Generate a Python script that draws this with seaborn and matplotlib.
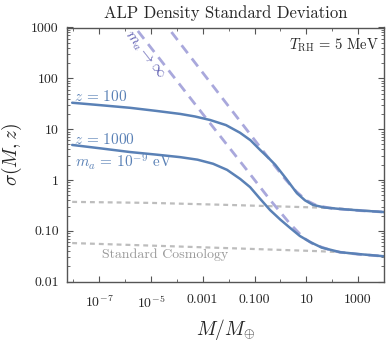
import matplotlib
matplotlib.use("Agg")
import matplotlib.pyplot as plt
import matplotlib.ticker as mticker
import numpy as np
import pandas as pd
import seaborn as sns

# values, as log10(M/M_earth) and log10(sigma)
logm_z100 = [-8.04, -6.9, -5.8, -4.8, -3.87, -3.3, -2.71, -2.1, -1.56, -1.15, -0.78, -0.45, -0.20, 0.2, 0.64, 0.95, 1.26, 1.7, 2.31, 3.1, 4.0]
logs_z100 = [1.52, 1.47, 1.42, 1.36, 1.30, 1.25, 1.18, 1.08, 0.93, 0.78, 0.59, 0.43, 0.30, 0.04, -0.26, -0.40, -0.49, -0.54, -0.57, -0.60, -0.63]

logm_z1000 = [-8.04, -6.9, -5.8, -4.8, -3.87, -3.2, -2.6, -2.06, -1.55, -1.17, -0.80, -0.40, 0.0, 0.37, 0.75, 1.15, 1.6, 2.31, 3.1, 4.0]
logs_z1000 = [0.69, 0.62, 0.55, 0.50, 0.45, 0.40, 0.32, 0.20, 0.02, -0.14, -0.36, -0.59, -0.78, -0.94, -1.10, -1.22, -1.33, -1.42, -1.46, -1.50]

logm_inf100 = [-4.6, -2.0, -0.5, 0.2, 0.6, 1.0, 1.4, 2.0, 2.31, 3.0, 4.0]
logs_inf100 = [3.17, 1.45, 0.46, 0.01, -0.22, -0.40, -0.50, -0.56, -0.57, -0.60, -0.63]

logm_inf1000 = [-5.9, -3.0, -1.3, -0.4, 0.37, 0.9, 1.3, 2.0, 2.31, 3.0, 4.0]
logs_inf1000 = [3.19, 1.30, 0.20, -0.39, -0.86, -1.14, -1.27, -1.39, -1.42, -1.46, -1.50]

logm_std100 = [-8.04, -5.0, -2.0, 0.0, 2.0, 3.0, 4.0]
logs_std100 = [-0.43, -0.45, -0.49, -0.52, -0.55, -0.59, -0.63]

logm_std1000 = [-8.04, -5.0, -2.0, 1.5, 2.31, 3.0, 4.0]
logs_std1000 = [-1.24, -1.29, -1.34, -1.40, -1.42, -1.46, -1.50]

xtick_vals = [1e-7, 1e-5, 1e-3, 1e-1, 1e1, 1e3]
xtick_labels = ["$10^{-7}$", "$10^{-5}$", "0.001", "0.100", "10", "1000"]
ytick_vals = [0.01, 0.1, 1, 10, 100, 1000]
ytick_labels = ["0.01", "0.10", "1", "10", "100", "1000"]

BLUE = "#5a81b6"
LAVENDER = "#a9a8dc"
GRAY = "#bdbdbd"

sns.set_theme(style="ticks")
plt.rcParams["font.family"] = ["cmr10", "DejaVu Serif"]
plt.rcParams["mathtext.fontset"] = "cm"
plt.rcParams["axes.unicode_minus"] = False
plt.rcParams["axes.formatter.use_mathtext"] = True


def frame(logm, logs):
    return pd.DataFrame({"M": 10 ** np.array(logm), "s": 10 ** np.array(logs)})


fig = plt.figure(figsize=(3.9, 3.41), dpi=100)
ax = fig.add_axes([67 / 390, 1 - 281.7 / 341, 317 / 390, 254.2 / 341])

dotted = dict(color=GRAY, lw=1.6, dashes=(2.2, 1.8), legend=False)
sns.lineplot(data=frame(logm_std100, logs_std100), x="M", y="s", ax=ax, **dotted)
sns.lineplot(data=frame(logm_std1000, logs_std1000), x="M", y="s", ax=ax, **dotted)

dashed = dict(color=LAVENDER, lw=2.0, dashes=(3.6, 2.4), legend=False)
sns.lineplot(data=frame(logm_inf100, logs_inf100), x="M", y="s", ax=ax, **dashed)
sns.lineplot(data=frame(logm_inf1000, logs_inf1000), x="M", y="s", ax=ax, **dashed)

sns.lineplot(data=frame(logm_z100, logs_z100), x="M", y="s", ax=ax, color=BLUE, lw=1.8, legend=False)
sns.lineplot(data=frame(logm_z1000, logs_z1000), x="M", y="s", ax=ax, color=BLUE, lw=1.8, legend=False)

ax.set_xscale("log")
ax.set_yscale("log")
ax.set_xlim(10 ** -8.24, 10 ** 4.0)
ax.set_ylim(0.01, 1000)

ax.xaxis.set_major_locator(mticker.FixedLocator(xtick_vals))
ax.xaxis.set_major_formatter(mticker.FixedFormatter(xtick_labels))
ax.xaxis.set_minor_locator(mticker.FixedLocator([10.0 ** k for k in range(-8, 5, 2)]))
ax.xaxis.set_minor_formatter(mticker.NullFormatter())
ax.yaxis.set_major_locator(mticker.FixedLocator(ytick_vals))
ax.yaxis.set_major_formatter(mticker.FixedFormatter(ytick_labels))
ax.yaxis.set_minor_locator(mticker.LogLocator(base=10, subs=np.arange(2, 10)))
ax.yaxis.set_minor_formatter(mticker.NullFormatter())

ax.tick_params(which="both", direction="in", top=True, right=True, color="#555555", labelsize=10, pad=6)
ax.tick_params(which="major", length=4, width=0.8)
ax.tick_params(which="minor", length=2.5, width=0.6)
ax.tick_params(axis="x", pad=9)
for sp in ax.spines.values():
    sp.set_color("#555555")
    sp.set_linewidth(1.0)

ax.set_xlabel(r"$M/M_{\oplus}$", fontsize=14, labelpad=5)
ax.set_ylabel(r"$\sigma(M,z)$", fontsize=14)
ax.yaxis.set_label_coords(-0.135, 0.5)
ax.set_title("ALP Density Standard Deviation", fontsize=12, pad=7)

ax.text(0.985, 0.93, r"$T_{\rm RH}\,=\,5$ MeV", transform=ax.transAxes, ha="right", va="center", fontsize=10.5)
ax.text(0.022, 0.728, r"$z\,=\,100$", transform=ax.transAxes, ha="left", va="center", fontsize=11, color=BLUE)
ax.text(0.022, 0.559, r"$z\,=\,1000$", transform=ax.transAxes, ha="left", va="center", fontsize=11, color=BLUE)
ax.text(0.025, 0.472, r"$m_a\,=\,10^{-9}$ eV", transform=ax.transAxes, ha="left", va="center", fontsize=11, color=BLUE)
ax.text(0.245, 0.89, r"$m_a \rightarrow \infty$", transform=ax.transAxes, ha="center", va="center",
        fontsize=11, color="#5b5bb0", rotation=-52)
ax.text(0.31, 0.105, "Standard Cosmology", transform=ax.transAxes, ha="center", va="center", fontsize=10, color="#9a9a9a")

fig.savefig("out.png", dpi=100)
